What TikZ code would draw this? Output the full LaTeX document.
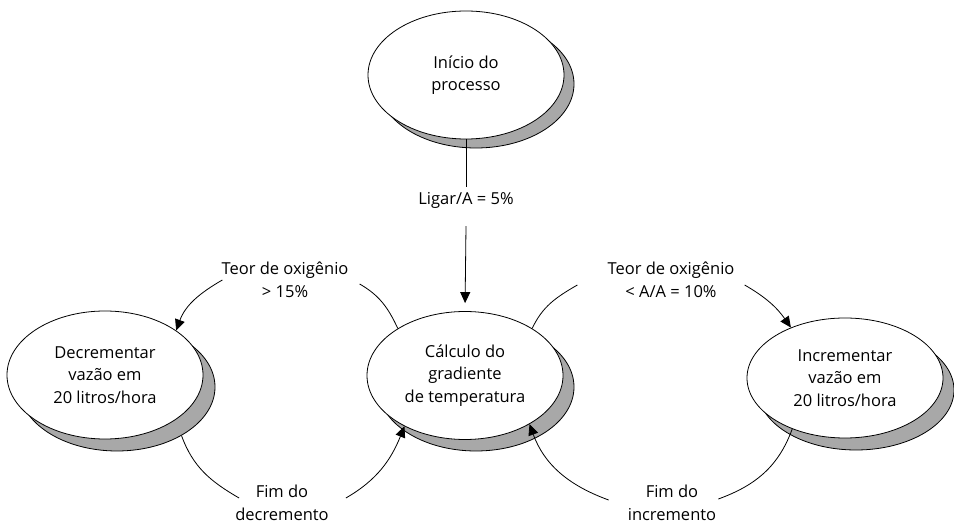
\documentclass[tikz,border=0pt]{standalone}
\usepackage{fontspec}
\setmainfont{Open Sans}
\usetikzlibrary{shapes.geometric,arrows.meta}
\definecolor{shade}{RGB}{168,168,168}
\begin{document}
\begin{tikzpicture}[x=1pt,y=1pt,
  every node/.style={font=\fontsize{16.5}{22.5}\selectfont, align=center, text=black},
  st/.style={ellipse, draw, line width=0.8pt, fill=white, minimum width=196pt, minimum height=128pt, inner sep=0pt},
  sh/.style={st, fill=shade},
  lbl/.style={inner sep=2pt},
  con/.style={line width=0.8pt},
  arr/.style={con, -{Triangle[length=11pt,width=10pt]}}]
\useasboundingbox (0,0) rectangle (954,525);
% shadows
\node[sh] (tops) at (476,441) {};
\node[sh] (cens) at (476,138) {};
\node[sh] (lefs) at (117,138) {};
\node[sh, minimum height=120pt] (rigs) at (856,135) {};
% states
\node[st] (top) at (466,450) {Início do\\processo};
\node[st] (cen) at (465,149.5) {Cálculo do\\gradiente\\de temperatura};
\node[st] (lef) at (105,150) {Decrementar\\vazão em\\20 litros/hora};
\node[st, minimum height=120pt] (rig) at (845,147) {Incrementar\\vazão em\\20 litros/hora};
% labels
\node[lbl] (t1) at (466,325) {Ligar/A = 5\%};
\node[lbl] (t2) at (285,245) {Teor de oxigênio\\> 15\%};
\node[lbl] (t3) at (671,245) {Teor de oxigênio\\< A/A = 10\%};
\node[lbl] (t4) at (282,22) {Fim do\\decremento};
\node[lbl] (t5) at (672,22) {Fim do\\incremento};
% connectors
\draw[con] (top.south) -- ([yshift=3pt]t1.north);
\draw[arr, shorten >=8pt] ([yshift=-16pt]t1.south) -- (cen.north);
\draw[con] (cen.145) to[out=115,in=-30] ([shift={(9pt,-4pt)}]t2.east);
\draw[arr] ([shift={(3pt,0pt)}]t2.west) to[out=210,in=70] (lef.32);
\draw[con] (cen.35) to[out=65,in=210] ([shift={(-28pt,-5pt)}]t3.west);
\draw[arr] ([shift={(8pt,-5pt)}]t3.east) to[out=-30,in=125] (rig.137);
\draw[con] (lefs.-37) to[out=-70,in=150] ([shift={(6pt,5pt)}]t4.west);
\draw[arr] ([shift={(15pt,5pt)}]t4.east) to[out=30,in=248] (cen.220);
\draw[con] (rig.224) to[out=250,in=20] ([shift={(0pt,4pt)}]t5.east);
\draw[arr] ([shift={(-17pt,3pt)}]t5.west) to[out=160,in=-70] (cen.-37);
\end{tikzpicture}
\end{document}
